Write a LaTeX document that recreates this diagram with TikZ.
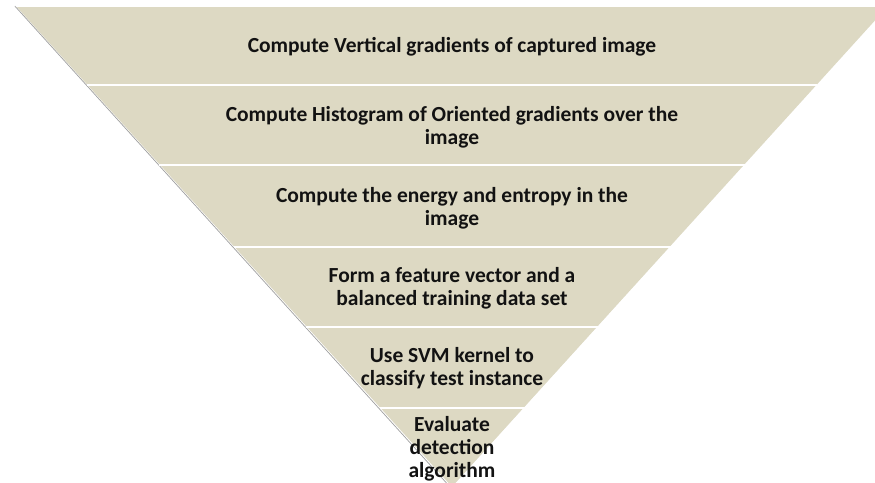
\documentclass[tikz,border=0pt]{standalone}
\usepackage{fontspec}
\setmainfont{Carlito}
\definecolor{bandfill}{RGB}{221,217,195}
\definecolor{txt}{RGB}{18,18,18}
\begin{document}
\begin{tikzpicture}[x=1pt,y=-1pt,
  lbl/.style={font=\fontsize{21.5}{23}\selectfont\bfseries, text=txt, align=center, inner sep=0pt},
  sep/.style={white, line width=2.2pt},
  shade/.style={gray!75, line width=0.7pt}]
\useasboundingbox (0,0) rectangle (875,482);
\clip (0,0) rectangle (875,482);
% funnel
\coordinate (tl) at (16.8,7);
\coordinate (tr) at (887.2,7);
\coordinate (apex) at (452,486.8);
\fill[bandfill] (tl) -- (tr) -- (apex) -- cycle;
% shadow on left edge
\draw[shade] (14.8,6) -- (451,488);
\draw[white, line width=1pt] (889,7) -- (453,487);
% separators
\foreach \y/\h in {85/364.4, 165/291.8, 247/217.5, 327/144.9, 408/71.5}{
  \draw[sep] ({452-\h-1},\y) -- ({452+\h+1},\y);
}
% labels
\node[lbl] (b1) at (452,47) {Compute Vertical gradients of captured image};
\node[lbl] (b2) at (452,127.5) {Compute Histogram of Oriented gradients over the\\image};
\node[lbl] (b3) at (452,208) {Compute the energy and entropy in the\\image};
\node[lbl] (b4) at (452,288) {Form a feature vector and a\\balanced training data set};
\node[lbl] (b5) at (452,368.5) {Use SVM kernel to\\classify test instance};
\node[lbl] (b6) at (452,449) {Evaluate\\detection\\algorithm};
\end{tikzpicture}
\end{document}
